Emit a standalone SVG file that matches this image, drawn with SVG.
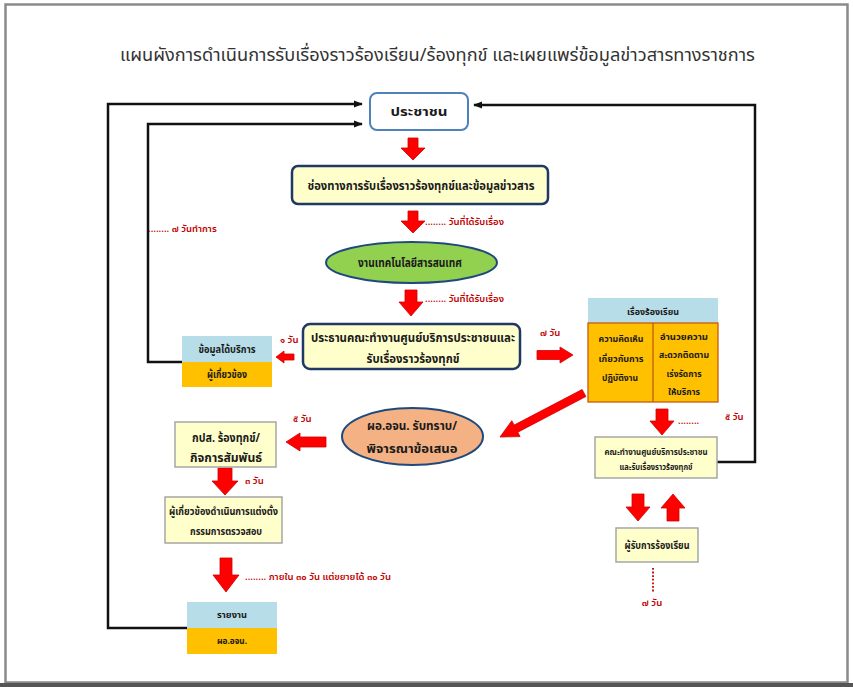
<svg xmlns="http://www.w3.org/2000/svg" width="853" height="687" viewBox="0 0 853 687">
  <style>
    text { font-family: "Noto Sans Thai", "Noto Sans", "DejaVu Sans", sans-serif; }
    .title { font-size: 18px; fill: #333333; }
    .t { font-size: 12.5px; font-weight: bold; fill: #1a1a1a; text-anchor: middle; }
    .s { font-size: 10px; font-weight: bold; fill: #1a1a1a; text-anchor: middle; }
    .xs { font-size: 8.5px; font-weight: bold; fill: #1a1a1a; text-anchor: middle; }
    .lbl { font-size: 9.5px; font-weight: 600; fill: #c00000; }
    .blk { fill: #ff0000; stroke: #d00000; stroke-width: 0.8; }
    .conn { fill: none; stroke: #111111; stroke-width: 2.5; }
    .ybox { fill: #ffffcc; stroke: #a6a6a6; stroke-width: 1.5; }
    .nbox { fill: #ffffcc; stroke: #1f3864; stroke-width: 2.5; }
    .lb { fill: #b7dee8; }
    .or { fill: #ffc000; }
  </style>
  <defs>
    <marker id="arr" viewBox="0 0 10 10" refX="9" refY="5" markerWidth="9" markerHeight="9" markerUnits="userSpaceOnUse" orient="auto">
      <path d="M0,1 L10,5 L0,9 Z" fill="#111111"/>
    </marker>
  </defs>

  <!-- page frame -->
  <rect x="5.5" y="4.5" width="842" height="678" fill="#ffffff" stroke="#8a8a8a" stroke-width="2.5"/>
  <rect x="0" y="683" width="853" height="4" fill="#555555"/>

  <text class="title" x="437.5" y="61" text-anchor="middle" textLength="635" lengthAdjust="spacingAndGlyphs">แผนผังการดำเนินการรับเรื่องราวร้องเรียน/ร้องทุกข์ และเผยแพร่ข้อมูลข่าวสารทางราชการ</text>

  <!-- connectors -->
  <g id="connectors">
    <path class="conn" d="M187,628 H108 V104 H362" marker-end="url(#arr)"/>
    <path class="conn" d="M182,362 H148 V124 H362" marker-end="url(#arr)"/>
    <path class="conn" d="M717,462 H755 V105 H474" marker-end="url(#arr)"/>

    <!-- block arrows -->
    <polygon class="blk" points="408,138 418,138 418,148 425,148 413,160 401,148 408,148"/>
    <polygon class="blk" points="408,211 418,211 418,221 425,221 413,233 401,221 408,221"/>
    <polygon class="blk" points="405,290 417,290 417,302 423,302 411,316 399,302 405,302"/>
    <polygon class="blk" points="294,354 284,354 284,351 276,357 284,363 284,360 294,360"/>
    <polygon class="blk" points="537,350.5 560,350.5 560,347 573,355 560,363 560,359.5 537,359.5"/>
    <polygon class="blk" points="582.1,389.5 514.1,425.1 511.8,420.7 500,437 520.1,436.6 517.8,432.2 585.9,396.5"/>
    <polygon class="blk" points="326,437 300,437 300,433 286,442 300,451 300,447 326,447"/>
    <polygon class="blk" points="218,468 232,468 232,481 238,481 225,495 212,481 218,481"/>
    <polygon class="blk" points="220,558 232,558 232,575 239,575 226,592 213,575 220,575"/>
    <polygon class="blk" points="656,409 668,409 668,421 674,421 662,435 650,421 656,421"/>
    <polygon class="blk" points="632,494 644,494 644,507 650,507 638,521 626,507 632,507"/>
    <polygon class="blk" points="667,521 679,521 679,508 685,508 673,494 661,508 667,508"/>

    <!-- dotted time notes -->
    <line x1="653" y1="568" x2="653" y2="593" stroke="#c00000" stroke-width="1.8" stroke-dasharray="1.8,1.8"/>
    <text class="lbl" x="425" y="225">........ วันที่ได้รับเรื่อง</text>
    <text class="lbl" x="425" y="302">........ วันที่ได้รับเรื่อง</text>
    <text class="lbl" x="148" y="232">........ ๗ วันทำการ</text>
    <text class="lbl" x="280" y="343">๑ วัน</text>
    <text class="lbl" x="540" y="336">๗ วัน</text>
    <text class="lbl" x="293" y="422">๕ วัน</text>
    <text class="lbl" x="245" y="484">๓ วัน</text>
    <text class="lbl" x="245" y="580">........ ภายใน ๓๐ วัน แต่ขยายได้ ๓๐ วัน</text>
    <text class="lbl" x="678" y="424">........</text>
    <text class="lbl" x="725" y="420">๕ วัน</text>
    <text class="lbl" x="652" y="606" text-anchor="middle">๗ วัน</text>
  </g>

  <g id="people">
    <rect x="370" y="93" width="98" height="37" rx="7" fill="#ffffff" stroke="#4f81bd" stroke-width="2"/>
    <text class="t" x="419" y="116" textLength="57" lengthAdjust="spacingAndGlyphs">ประชาชน</text>
  </g>

  <g id="channels">
    <rect class="nbox" x="292" y="166" width="256" height="38" rx="6"/>
    <text class="t" x="421" y="190" textLength="227" lengthAdjust="spacingAndGlyphs">ช่องทางการรับเรื่องราวร้องทุกข์และข้อมูลข่าวสาร</text>
  </g>

  <g id="it-unit">
    <ellipse cx="411.5" cy="262.5" rx="85.5" ry="20.5" fill="#92d050" stroke="#1f497d" stroke-width="2"/>
    <text class="t" x="410" y="267" textLength="104" lengthAdjust="spacingAndGlyphs">งานเทคโนโลยีสารสนเทศ</text>
  </g>

  <g id="chair">
    <rect class="nbox" x="303" y="324" width="217" height="45" rx="7"/>
    <text class="t" x="413" y="342" textLength="204" lengthAdjust="spacingAndGlyphs">ประธานคณะทำงานศูนย์บริการประชาชนและ</text>
    <text class="t" x="413" y="363" textLength="93" lengthAdjust="spacingAndGlyphs">รับเรื่องราวร้องทุกข์</text>
  </g>

  <g id="service-info">
    <rect class="lb" x="182" y="336" width="90" height="26"/>
    <rect class="or" x="182" y="362" width="90" height="25"/>
    <text class="s" x="227" y="353" textLength="57" lengthAdjust="spacingAndGlyphs">ข้อมูลได้บริการ</text>
    <text class="s" x="227" y="378" textLength="40" lengthAdjust="spacingAndGlyphs">ผู้เกี่ยวข้อง</text>
  </g>

  <g id="complaint-types">
    <rect class="lb" x="588" y="298" width="130" height="25"/>
    <rect class="or" x="588" y="323" width="130" height="79" stroke="#c55a11" stroke-width="1.3"/>
    <line x1="653" y1="323" x2="653" y2="402" stroke="#c55a11" stroke-width="1.3"/>
    <text class="xs" x="653" y="315" textLength="52" lengthAdjust="spacingAndGlyphs">เรื่องร้องเรียน</text>
    <text class="xs" x="621" y="342" textLength="45" lengthAdjust="spacingAndGlyphs">ความคิดเห็น</text>
    <text class="xs" x="621" y="362" textLength="45" lengthAdjust="spacingAndGlyphs">เกี่ยวกับการ</text>
    <text class="xs" x="620" y="381" textLength="36" lengthAdjust="spacingAndGlyphs">ปฏิบัติงาน</text>
    <text class="xs" x="684" y="340" textLength="48" lengthAdjust="spacingAndGlyphs">อำนวยความ</text>
    <text class="xs" x="684" y="358" textLength="50" lengthAdjust="spacingAndGlyphs">สะดวกติดตาม</text>
    <text class="xs" x="684" y="377" textLength="35" lengthAdjust="spacingAndGlyphs">เร่งรัดการ</text>
    <text class="xs" x="684" y="395" textLength="32" lengthAdjust="spacingAndGlyphs">ให้บริการ</text>
  </g>

  <g id="director">
    <ellipse cx="412.5" cy="436.5" rx="70.5" ry="28.5" fill="#f4b183" stroke="#1f497d" stroke-width="2"/>
    <text class="t" x="412" y="430" textLength="90" lengthAdjust="spacingAndGlyphs">ผอ.อจน. รับทราบ/</text>
    <text class="t" x="412" y="453" textLength="91" lengthAdjust="spacingAndGlyphs">พิจารณาข้อเสนอ</text>
  </g>

  <g id="pr-unit">
    <rect class="ybox" x="175" y="422" width="101" height="45"/>
    <text class="t" x="226" y="442" textLength="68" lengthAdjust="spacingAndGlyphs">กปส. ร้องทุกข์/</text>
    <text class="t" x="226" y="462" textLength="72" lengthAdjust="spacingAndGlyphs">กิจการสัมพันธ์</text>
  </g>

  <g id="inspection">
    <rect class="ybox" x="165" y="497" width="117" height="46"/>
    <text class="s" x="223.5" y="515" textLength="109" lengthAdjust="spacingAndGlyphs">ผู้เกี่ยวข้องดำเนินการแต่งตั้ง</text>
    <text class="s" x="226" y="535" textLength="72" lengthAdjust="spacingAndGlyphs">กรรมการตรวจสอบ</text>
  </g>

  <g id="report">
    <rect class="lb" x="187" y="602" width="90" height="26"/>
    <rect class="or" x="187" y="628" width="90" height="26"/>
    <text class="xs" x="232" y="618" textLength="30" lengthAdjust="spacingAndGlyphs">รายงาน</text>
    <text class="xs" x="232" y="644" textLength="30" lengthAdjust="spacingAndGlyphs">ผอ.อจน.</text>
  </g>

  <g id="working-group">
    <rect class="ybox" x="595" y="437" width="122" height="41"/>
    <text class="xs" x="656" y="455" textLength="103" lengthAdjust="spacingAndGlyphs">คณะทำงานศูนย์บริการประชาชน</text>
    <text class="xs" x="656" y="470" textLength="73" lengthAdjust="spacingAndGlyphs">และรับเรื่องราวร้องทุกข์</text>
  </g>

  <g id="complaint-handler">
    <rect class="ybox" x="616" y="528" width="82" height="34"/>
    <text class="s" x="657" y="549" textLength="65" lengthAdjust="spacingAndGlyphs">ผู้รับการร้องเรียน</text>
  </g>
</svg>
